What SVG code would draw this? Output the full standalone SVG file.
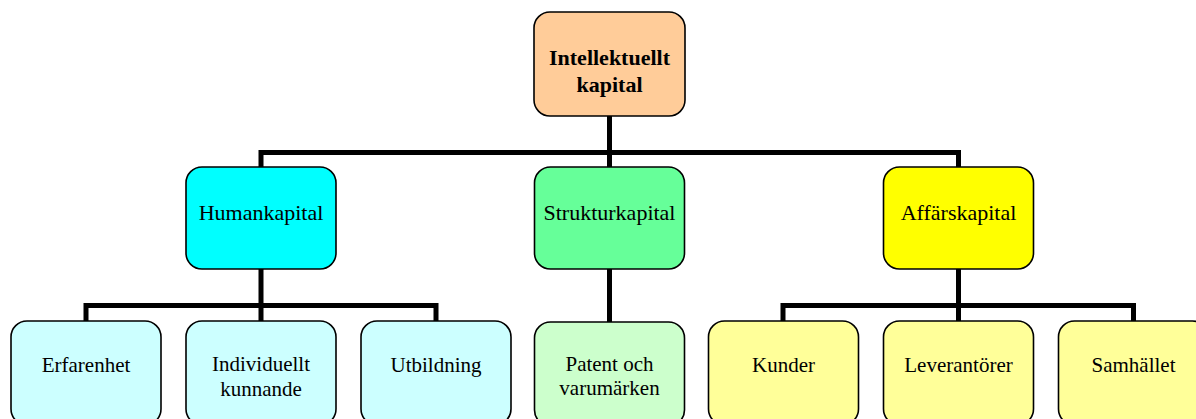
<svg xmlns="http://www.w3.org/2000/svg" width="1196" height="419" viewBox="0 0 1196 419">
<style>
.node rect{stroke:#000;stroke-width:1.6}
.node text{font-family:"Liberation Serif","Times New Roman",serif;fill:#000;text-anchor:middle}
.t0{font-size:22px;font-weight:bold}
.t1{font-size:22px}
.t2{font-size:21px}
#connectors path{fill:none;stroke:#000;stroke-width:5}
</style>
<rect width="1196" height="419" fill="#fff"/>
<g id="connectors">
<path d="M609.5 116V152.5M261 152.5H958.5M261 150V167M609.5 150V167M958.5 150V167"/>
<path d="M261 269V305.5M86 305.5H436M86 303V321M436 303V321M261 303V321"/>
<path d="M609.5 269V322"/>
<path d="M958.5 269V305.5M783 305.5H1133.5M783 303V321M1133.5 303V321M958.5 303V321"/>
</g>
<g id="n-intellektuellt" class="node"><rect x="534" y="12" width="151" height="104" rx="16" fill="#FFCC99"/><text class="t0" x="609.5" y="65">Intellektuellt</text><text class="t0" x="609.5" y="92">kapital</text></g>
<g id="n-human" class="node"><rect x="186" y="167" width="150" height="102" rx="16" fill="#00FFFF"/><text class="t1" x="261" y="220">Humankapital</text></g>
<g id="n-struktur" class="node"><rect x="534.5" y="167" width="150" height="102" rx="16" fill="#66FF99"/><text class="t1" x="609.5" y="220">Strukturkapital</text></g>
<g id="n-affar" class="node"><rect x="883.5" y="167" width="150" height="102" rx="16" fill="#FFFF00"/><text class="t1" x="958.5" y="220">Affärskapital</text></g>
<g id="n-erfarenhet" class="node"><rect x="11" y="321" width="150" height="104" rx="16" fill="#CCFFFF"/><text class="t2" x="86" y="372">Erfarenhet</text></g>
<g id="n-individuellt" class="node"><rect x="186" y="321" width="150" height="104" rx="16" fill="#CCFFFF"/><text class="t2" x="261" y="371">Individuellt</text><text class="t2" x="261" y="396">kunnande</text></g>
<g id="n-utbildning" class="node"><rect x="361" y="321" width="150" height="104" rx="16" fill="#CCFFFF"/><text class="t2" x="436" y="372">Utbildning</text></g>
<g id="n-patent" class="node"><rect x="534.5" y="322" width="150" height="104" rx="16" fill="#CCFFCC"/><text class="t2" x="609.5" y="371">Patent och</text><text class="t2" x="609.5" y="395">varumärken</text></g>
<g id="n-kunder" class="node"><rect x="708.5" y="321" width="150" height="104" rx="16" fill="#FFFF99"/><text class="t2" x="783.5" y="372">Kunder</text></g>
<g id="n-leverantorer" class="node"><rect x="883.5" y="321" width="150" height="104" rx="16" fill="#FFFF99"/><text class="t2" x="958.5" y="372">Leverantörer</text></g>
<g id="n-samhallet" class="node"><rect x="1058.5" y="321" width="150" height="104" rx="16" fill="#FFFF99"/><text class="t2" x="1133.5" y="372">Samhället</text></g>
</svg>
